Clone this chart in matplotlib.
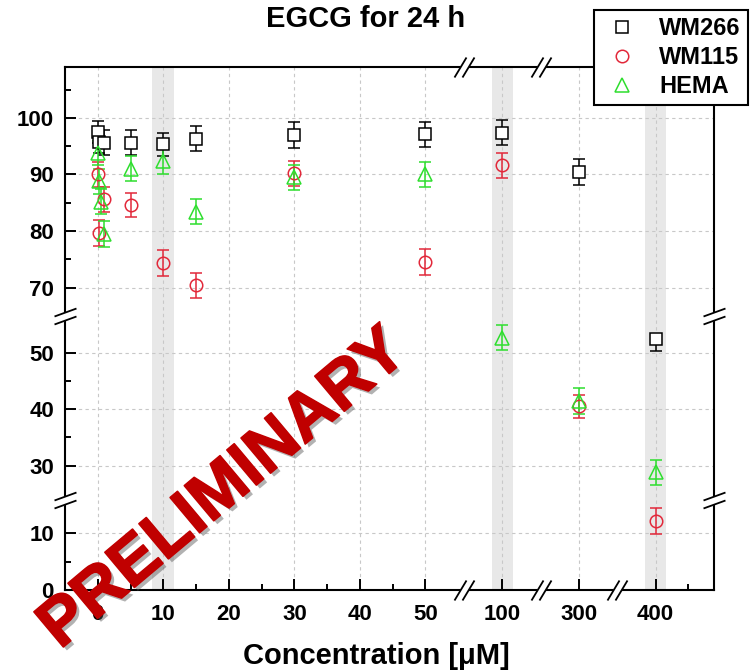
import numpy as np
import matplotlib
matplotlib.use('Agg')
import matplotlib.pyplot as plt
from matplotlib.path import Path
from matplotlib.lines import Line2D
from matplotlib import patheffects, transforms, font_manager

# data
conc_wm266 = [0.1, 0.25, 1, 5, 10, 15, 30, 50, 100, 300, 400]
wm266 = [97.5, 95.8, 95.6, 95.6, 95.3, 96.3, 96.9, 97.1, 97.4, 90.4, 52.4]
wm266_lo = [2.0, 2.0, 2.2, 2.2, 2.1, 2.2, 2.3, 2.2, 2.2, 2.3, 2.2]
wm266_hi = [2.0, 2.0, 2.2, 2.2, 2.1, 2.2, 2.3, 2.2, 2.2, 2.3, 0.0]

conc_wm115 = [0.1, 0.25, 1, 5, 10, 15, 30, 50, 100, 300, 400]
wm115 = [90.0, 79.6, 85.6, 84.6, 74.3, 70.4, 90.2, 74.5, 91.6, 40.5, 12.2]
wm115_err = [2.2, 2.3, 2.2, 2.2, 2.3, 2.2, 2.2, 2.3, 2.2, 2.0, 2.3]

conc_hema = [0.1, 0.25, 0.5, 1, 5, 10, 15, 30, 50, 100, 300, 400]
hema = [93.8, 88.8, 85.2, 79.4, 91.0, 92.3, 83.4, 89.5, 90.0, 52.6, 41.5, 28.8]
hema_err = [2.2, 2.2, 2.2, 2.3, 2.2, 2.2, 2.2, 2.2, 2.2, 2.2, 2.3, 2.2]

x_ticks = [0, 10, 20, 30, 40, 50, 100, 300, 400]
x_minor = [5, 15, 25, 35, 45, 405]
y_ticks = [0, 10, 30, 40, 50, 70, 80, 90, 100]
y_minor = [5, 35, 45, 75, 85, 95, 105]
bands = [10, 100, 400]

# broken axes: kept pieces of each axis
x_segments = [(-5, 55.9), (94.15, 105.85), (294.15, 305.85), (394.15, 408.9)]
y_segments = [(0, 16), (24, 56.5), (65, 109)]


def piecewise(segments):
    xp, fp = [], []
    pos = segments[0][0]
    for i, (lo, hi) in enumerate(segments):
        xp += [lo, hi]
        fp += [pos + (1e-9 if i else 0), pos + hi - lo]
        pos += hi - lo
    xp = [xp[0] - 1e4] + xp + [xp[-1] + 1e4]
    fp = [fp[0] - 1e4] + fp + [fp[-1] + 1e4]
    return (lambda v: np.interp(v, xp, fp)), (lambda d: np.interp(d, fp, xp))


plt.rcParams['font.family'] = ['Liberation Sans', 'DejaVu Sans']
plt.rcParams['font.weight'] = 'bold'

fig = plt.figure(figsize=(7.54, 6.72), dpi=100)
ax = fig.add_axes([65 / 754, 1 - 590 / 672, 649 / 754, 523 / 672])
ax.set_xscale('function', functions=piecewise(x_segments))
ax.set_yscale('function', functions=piecewise(y_segments))

red = '#e2283a'
green = '#2ede2e'

for b in bands:
    ax.axvspan(b - 1.65, b + 1.65, color='#e8e8e8', zorder=0.2, lw=0)

ax.errorbar(conc_wm266, wm266, yerr=[wm266_lo, wm266_hi], fmt='s', color='black',
            mfc='white', mec='black', ms=8.3, mew=1.1, elinewidth=1.1,
            capsize=4.3, capthick=1.1, zorder=3)
ax.errorbar(conc_wm115, wm115, yerr=wm115_err, fmt='o', color=red,
            mfc='none', mec=red, ms=9, mew=1.1, elinewidth=1.1,
            capsize=4.3, capthick=1.1, zorder=3)
ax.errorbar(conc_hema, hema, yerr=hema_err, fmt='^', color=green,
            mfc='none', mec=green, ms=10, mew=1.1, elinewidth=1.1,
            capsize=4.3, capthick=1.1, zorder=3)

ax.set_xticks(x_ticks, labels=[str(t) for t in x_ticks])
ax.set_xticks(x_minor, minor=True)
ax.set_yticks(y_ticks, labels=[str(t) for t in y_ticks])
ax.set_yticks(y_minor, minor=True)
ax.tick_params(which='both', direction='in', width=1.4, top=False, right=False)
ax.tick_params(which='major', length=8, labelsize=16, pad=8)
ax.tick_params(axis='x', which='major', pad=10)
ax.tick_params(which='minor', length=4)
ax.set_axisbelow(True)
ax.grid(True, which='major', color='#c8c8c8', linestyle=(0, (3, 3)), linewidth=0.8)
for s in ax.spines.values():
    s.set_linewidth(1.5)

# break marks
C = Path.CLOSEPOLY
slash_fill = Path([(-10, -10), (-2, -10), (10, 10), (2, 10), (-10, -10)],
                  [Path.MOVETO, Path.LINETO, Path.LINETO, Path.LINETO, C])
slash_line = Path([(-10, -10), (2, 10), (-2, -10), (10, 10)],
                  [Path.MOVETO, Path.LINETO, Path.MOVETO, Path.LINETO])
bar_fill = Path([(-11, -8), (11, 0), (11, 8), (-11, 0), (-11, -8)],
                [Path.MOVETO, Path.LINETO, Path.LINETO, Path.LINETO, C])
bar_line = Path([(-11, -8), (11, 0), (-11, 0), (11, 8)],
                [Path.MOVETO, Path.LINETO, Path.MOVETO, Path.LINETO])

tx = transforms.blended_transform_factory(ax.transData, ax.transAxes)
ty = transforms.blended_transform_factory(ax.transAxes, ax.transData)
for xb in [seg[1] for seg in x_segments[:-1]]:
    ax.plot([xb, xb], [0, 1], ls='none', marker=slash_fill, ms=14.4, mfc='white',
            mec='white', mew=0.5, transform=tx, clip_on=False, zorder=6)
    ax.plot([xb, xb], [0, 1], ls='none', marker=slash_line, ms=14.4, mfc='none',
            mec='black', mew=1.3, transform=tx, clip_on=False, zorder=7)
for yb in [seg[1] for seg in y_segments[:-1]]:
    ax.plot([0, 1], [yb, yb], ls='none', marker=bar_fill, ms=15.8, mfc='white',
            mec='white', mew=0.5, transform=ty, clip_on=False, zorder=6)
    ax.plot([0, 1], [yb, yb], ls='none', marker=bar_line, ms=15.8, mfc='none',
            mec='black', mew=1.3, transform=ty, clip_on=False, zorder=7)
ax.set_xlim(-5, 408.9)
ax.set_ylim(0, 109)

handles = [
    Line2D([0], [0], ls='none', marker='s', mfc='white', mec='black', ms=8.3, mew=1.1),
    Line2D([0], [0], ls='none', marker='o', mfc='none', mec=red, ms=9, mew=1.1),
    Line2D([0], [0], ls='none', marker='^', mfc='none', mec=green, ms=10, mew=1.1),
]
leg = ax.legend(handles, ['WM266', 'WM115', 'HEMA'], loc='upper right',
                bbox_to_anchor=(748 / 754, 1 - 10 / 672), bbox_transform=fig.transFigure,
                fancybox=False, framealpha=1, edgecolor='black',
                prop={'weight': 'bold', 'size': 17}, handlelength=1.7,
                handletextpad=0.75, labelspacing=0.25, borderpad=0.3,
                borderaxespad=0)
leg.get_frame().set_linewidth(1.5)
leg.set_zorder(10)

fig.text(366 / 754, 1 - 19 / 672, 'EGCG for 24 h', ha='center', va='center',
         fontsize=21, fontweight='bold')
fig.text(376 / 754, 1 - 656 / 672, 'Concentration [\u03bcM]', ha='center',
         va='center', fontsize=21, fontweight='bold')

names = {f.name for f in font_manager.fontManager.ttflist}
if 'Liberation Sans Narrow' in names:
    wm_font, wm_size = 'Liberation Sans Narrow', 58
else:
    wm_font, wm_size = 'Liberation Sans', 48
fig.text(224 / 754, 1 - 490 / 672, 'PRELIMINARY', ha='center', va='center',
         rotation=40, rotation_mode='anchor', fontsize=wm_size, fontweight='bold',
         family=wm_font, color='#c00000', zorder=20,
         path_effects=[patheffects.withSimplePatchShadow(offset=(2.5, -2.5),
                                                         shadow_rgbFace='#555555',
                                                         alpha=0.45),
                       patheffects.Stroke(linewidth=1.2, foreground='#c00000'),
                       patheffects.Normal()])

fig.savefig('out.png', dpi=100)
